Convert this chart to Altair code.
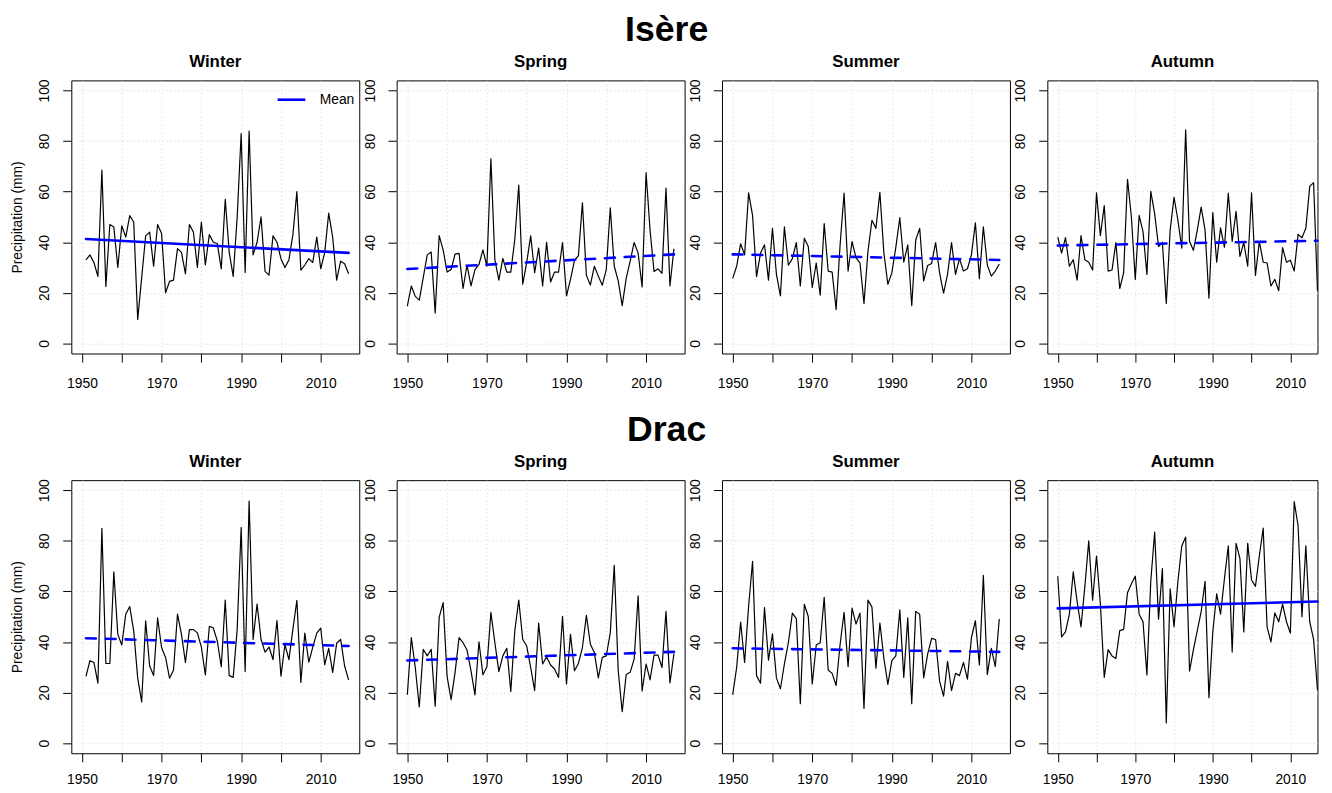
import altair as alt
import pandas as pd

FONT = "Liberation Sans"
BLUE = "#0000FF"

basins = ["Isère", "Drac"]
seasons = ["Winter", "Spring", "Summer", "Autumn"]
first_year = {"Winter": 1951, "Spring": 1950, "Summer": 1950, "Autumn": 1950}

x_ticks = [1950, 1960, 1970, 1980, 1990, 2000, 2010]
y_ticks = [0, 20, 40, 60, 80, 100]

isere_winter = [33, 35, 32, 26.5, 68.5, 22.5, 47, 46, 30, 46.5,
                42, 50.5, 48, 9.5, 26, 42.5, 44, 30.5, 47, 43.5,
                20, 24.5, 25, 37.5, 36, 27.5, 47, 44, 30, 48,
                31, 43, 40, 39.5, 29.5, 57, 36, 26.5, 50, 83,
                28, 84, 35, 40, 50, 28.5, 27, 42.5, 40, 33.5,
                30, 33, 43, 60, 29, 31, 33.5, 32, 42, 29.5,
                36, 51.5, 42, 25, 32.5, 31.5, 27.5]
isere_spring = [14.7, 22.7, 18.6, 17.1, 26, 35, 36.1, 12, 42.6, 37,
                28.2, 29.2, 35.3, 35.6, 21.7, 31, 22.7, 29.2, 31.2, 37,
                30.5, 73, 33, 25, 33.6, 28.2, 28.2, 41, 62.6, 23.4,
                32, 42.5, 28, 37.7, 22.7, 40, 24.3, 28.2, 28.2, 39.9,
                18.8, 25.3, 32.7, 34.7, 55.6, 26.9, 23.1, 30.5, 26.6, 23,
                29.2, 53.6, 30.5, 24.7, 14.9, 25.7, 32.5, 39.9, 35.7, 22.3,
                67.5, 44.8, 28.4, 29.5, 27.7, 61.4, 22.7, 37.4]
isere_summer = [25.7, 30.5, 39.4, 35, 59.5, 50.6, 26.4, 35.7, 39, 25,
                45.5, 27.3, 18.8, 46.1, 30.9, 33.5, 39.9, 22.7, 41.6, 38.3,
                22.1, 31.8, 19.1, 47.4, 28.6, 28.2, 13.4, 39, 59.4, 28.6,
                40.3, 33.8, 31.8, 15.8, 36.4, 48.7, 45.5, 59.7, 35.7, 23.4,
                27.9, 38, 49.7, 32.1, 39, 14.9, 40.9, 45.5, 24.7, 30.8,
                31.6, 39.9, 27.9, 19.9, 27.3, 39.9, 27.3, 33.5, 28.6, 29.5,
                35, 47.7, 25.6, 46.1, 30.9, 26.6, 28.6, 31.4]
isere_autumn = [42, 35.7, 41.8, 30.5, 33.1, 25, 42.6, 33.1, 32.1, 29,
                59.5, 42.6, 54.5, 28.6, 29, 39.9, 21.7, 27.9, 64.9, 50,
                25.3, 50.6, 44.2, 27.3, 60.1, 51.3, 38.3, 39.9, 15.8, 44.8,
                57.8, 48.7, 37.7, 84.4, 40.3, 36.8, 44.8, 53.9, 44.8, 17.9,
                51.7, 32.1, 45.7, 38, 59.4, 40.3, 52.2, 34.4, 39.9, 30.5,
                59.5, 26.9, 40.3, 32.1, 31.8, 22.7, 25.3, 20.8, 37.9, 32.1,
                32.9, 28.6, 43.1, 41.8, 45.5, 62.1, 63.6, 20.8]
drac_winter = [26.4, 32.6, 31.9, 23.7, 84.9, 31.5, 31.5, 67.7, 43, 38.8,
               51, 54, 44.3, 25.8, 16.3, 48.4, 30.6, 26.7, 49.5, 37.8,
               33.9, 25.7, 28.9, 51, 43, 31.9, 44.9, 44.9, 43.6, 38,
               27, 46.2, 45.6, 40.4, 30.2, 56.6, 26.7, 26, 45, 85.3,
               28.3, 95.7, 41, 55, 41, 36, 38, 33, 48.5, 26.5,
               39, 33, 45, 56.5, 24, 43.5, 32, 38, 43.5, 45.5,
               31, 37.5, 28, 39.5, 41, 30.5, 25]
drac_spring = [19.1, 41.7, 29.9, 14.3, 37.1, 34.5, 37.1, 14.6, 49.7, 55.6,
               26.3, 17.2, 28, 41.7, 39.7, 36.8, 28.6, 19.1, 40.1, 27,
               30.2, 51.7, 39.7, 28.3, 34.5, 37.5, 20.4, 44.3, 56.6, 41,
               38.4, 29.9, 20.8, 47.5, 31.3, 34.1, 30.9, 29.3, 26, 50.1,
               23.4, 43, 28.6, 31.5, 37.8, 50.5, 39.1, 35.8, 25.8, 33.9,
               34.5, 43.6, 70.3, 28.6, 12.4, 27.1, 28, 33.2, 58.2, 20.6,
               31.3, 25, 34.8, 34.8, 29.9, 52.1, 23.8, 35.4]
drac_summer = [19.1, 29.9, 47.9, 31.9, 54, 71.9, 26.7, 23.7, 53.6, 32.8,
               43.2, 25.8, 21.5, 31.3, 39.7, 51.4, 49.2, 15.6, 54.9, 50.1,
               23.4, 38.8, 39.7, 57.7, 28.9, 27.6, 22.8, 39.1, 51.7, 30.2,
               53.4, 47.1, 51.4, 13.7, 56.6, 53.8, 29.6, 47.5, 33.5, 23.2,
               32.6, 34.5, 52.7, 26, 49.5, 15.6, 52.1, 51, 25.8, 35.2,
               41.4, 41, 24.5, 18.6, 32.3, 20.8, 27.6, 26.7, 31.9, 25.3,
               41.7, 48.4, 30.9, 66.4, 27.1, 37.5, 30.3, 49.1]
drac_autumn = [66, 42, 44, 51, 67.7, 56, 46, 62, 80, 56.5,
               74, 55, 26, 37, 34.5, 33.5, 44.5, 45, 59.5, 63,
               66, 51, 48, 27, 64, 83.5, 49, 69, 8, 61,
               46, 64, 78, 81.5, 28.5, 37, 44.5, 52, 64, 18,
               44, 59, 51, 65, 78, 36, 79, 73, 44, 79,
               64.5, 62, 74, 85, 46, 40, 51.5, 48, 55, 48,
               43.5, 95.5, 86, 50, 78, 48, 41, 21]

series = [isere_winter, isere_spring, isere_summer, isere_autumn,
          drac_winter, drac_spring, drac_summer, drac_autumn]
trend_start = [41.3, 29.4, 35.2, 38.7, 41.5, 32.7, 37.5, 53.3]
trend_end = [35.8, 35.2, 33.0, 40.6, 38.4, 36.1, 36.1, 56.0]
trend_solid = [True, False, False, False, False, False, False, True]

X_MIN = 1947.32
PLOT_H = 276


def make_panel(i):
    row, col = divmod(i, 4)
    season = seasons[col]
    vals = series[i]
    y0 = first_year[season]
    years = list(range(y0, y0 + len(vals)))
    df = pd.DataFrame({"year": years, "value": vals})
    tdf = pd.DataFrame({"year": [years[0], years[-1]],
                        "value": [trend_start[i], trend_end[i]],
                        "series": ["Mean", "Mean"]})
    if col < 3:
        width, xmax = 291, 2019.68
    else:
        width, xmax = 273, 2017.0
    xenc = alt.X("year:Q",
                 scale=alt.Scale(domain=[X_MIN, xmax], nice=False, zero=False),
                 axis=alt.Axis(values=x_ticks, format="d",
                               labelPadding=15 if row == 0 else 11,
                               labelExpr="datum.value % 20 == 10 ? datum.label : ''"),
                 title=None)
    yaxis = alt.Axis(values=y_ticks, labelAngle=270, labelAlign="center",
                     labelBaseline="alphabetic")
    yenc = alt.Y("value:Q",
                 scale=alt.Scale(domain=[-4, 104], nice=False, zero=False),
                 axis=yaxis,
                 title="Precipitation (mm)" if col == 0 else None)
    line = alt.Chart(df).mark_line(color="black", strokeWidth=1.2,
                                   strokeJoin="round").encode(x=xenc, y=yenc)
    mark_kw = dict(strokeWidth=2.6, strokeCap="round")
    if not trend_solid[i]:
        mark_kw["strokeDash"] = [10, 10]
    if i == 0:
        color = alt.Color("series:N",
                          scale=alt.Scale(domain=["Mean"], range=[BLUE]),
                          legend=alt.Legend(orient="none", legendX=207, legendY=4,
                                            title=None, symbolType="stroke",
                                            symbolSize=784, symbolStrokeWidth=2.6,
                                            labelFontSize=14, labelFont=FONT,
                                            labelOffset=13, labelColor="black",
                                            padding=0))
    else:
        color = alt.value(BLUE)
    trend = alt.Chart(tdf).mark_line(**mark_kw).encode(x=xenc, y=yenc, color=color)
    return alt.layer(line, trend).properties(
        width=width, height=PLOT_H,
        title=alt.TitleParams(season, fontSize=17, fontWeight="bold", font=FONT,
                              anchor="middle", frame="group", offset=8,
                              color="black"))


rows = []
for r, basin in enumerate(basins):
    panels = [make_panel(r * 4 + c) for c in range(4)]
    row = alt.hconcat(*panels, spacing=1.8,
                      title=alt.TitleParams(basin, fontSize=36, fontWeight="bold",
                                            font=FONT, anchor="middle",
                                            color="black", offset=4)
                      ).resolve_scale(x="independent", y="independent",
                                      color="independent")
    rows.append(row)

chart = alt.vconcat(*rows, spacing=20).properties(
    padding={"left": 2, "top": 0, "right": 0, "bottom": 0}
).configure_view(
    stroke="black", strokeWidth=1
).configure_axis(
    labelFont=FONT, labelFontSize=14, labelColor="black",
    tickColor="black", tickSize=8.7, tickWidth=1, domain=False,
    grid=True, gridColor="#D3D3D3", gridDash=[1, 3], gridWidth=1,
    titleFont=FONT, titleFontSize=14, titleFontWeight="normal",
    titleColor="black", labelFlush=False, labelOverlap=False
).configure_axisY(
    labelPadding=14, titlePadding=13.7
)

chart.save("out.html", embed_options={"renderer": "svg", "actions": False})
